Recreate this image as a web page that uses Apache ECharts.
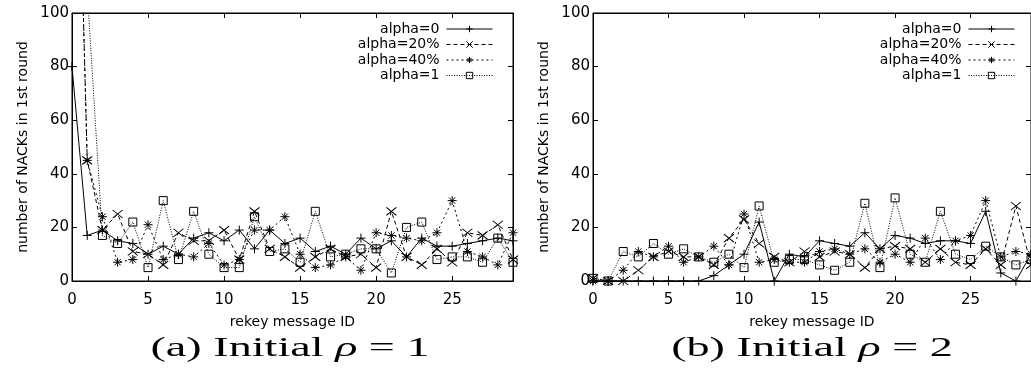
<!DOCTYPE html>
<html>
<head>
<meta charset="utf-8">
<script src="https://cdn.jsdelivr.net/npm/echarts@6/dist/echarts.min.js"></script>
<style>
html,body{margin:0;padding:0;background:#fff;}
#chart{width:1031px;height:368px;}
</style>
</head>
<body>
<div id="chart"></div>
<script>
// rekey message IDs
const ids = [0,1,2,3,4,5,6,7,8,9,10,11,12,13,14,15,16,17,18,19,20,21,22,23,24,25,26,27,28,29];
const seriesNames = ['alpha=0', 'alpha=20%', 'alpha=40%', 'alpha=1'];
const xTicks = [0, 5, 10, 15, 20, 25];
const yTicks = [0, 20, 40, 60, 80, 100];

// (a) Initial rho = 1
const a_alpha0  = [80,17,19,15,14,10,13,10,16,18,15,19,12,19,14,16,11,13,10,16,12,15,9,16,13,13,14,15,16,15];
const a_alpha20 = [260,45,19,25,11,10,6,18,15,15,19,8,26,12,9,5,9,12,9,10,5,26,9,6,12,7,18,17,21,8];
const a_alpha40 = [260,45,24,7,8,21,8,10,9,14,6,8,19,19,24,10,5,6,9,4,18,17,16,15,18,30,11,9,6,18];
const a_alpha1  = [150,108,17,14,22,5,30,8,26,10,5,5,24,11,12,7,26,9,10,12,12,3,20,22,8,9,9,7,16,7];

// (b) Initial rho = 2
const b_alpha0  = [0,0,0,0,0,0,0,0,2,6,10,22,0,10,9,15,14,13,18,12,17,16,14,15,15,14,26,3,0,10];
const b_alpha20 = [1,0,0,4,9,11,9,9,6,16,23,14,9,7,11,9,11,10,5,12,13,12,7,12,7,6,12,6,28,6];
const b_alpha40 = [0,0,4,11,9,13,7,9,13,6,25,7,8,7,7,11,12,10,12,7,10,7,16,8,15,17,30,9,11,10];
const b_alpha1  = [1,0,11,9,14,10,12,9,7,10,5,28,7,8,8,6,4,7,29,5,31,10,7,26,10,8,13,9,6,8];

const xAxisName = 'rekey message ID';
const yAxisName = 'number of NACKs in 1st round';

const chart = echarts.init(document.getElementById('chart'), null, {renderer: 'canvas'});

const SYM = {
  plus: 'path://M5,0L5,10M0,5L10,5',
  cross: 'path://M0,0L10,10M10,0L0,10',
  star: 'path://M5,0L5,10M0,5L10,5M1.5,1.5L8.5,8.5M8.5,1.5L1.5,8.5',
  square: 'path://M0,0L10,0L10,10L0,10Z'
};
const styles = [
  {sym: SYM.plus, size: [9, 9], dash: 'solid'},
  {sym: SYM.cross, size: [10, 8], dash: [4, 3]},
  {sym: SYM.star, size: [9, 9], dash: [2, 3]},
  {sym: SYM.square, size: [8, 8], dash: [1, 1.5]}
];

const fontSans = '"DejaVu Sans", "Liberation Sans", sans-serif';
const fontSerif = '"Liberation Serif", "DejaVu Serif", serif';

const grids = [
  {left: 72, top: 13, width: 441, height: 268, show: true, borderColor: '#000', borderWidth: 1, backgroundColor: 'transparent'},
  {left: 593, top: 13, width: 441, height: 268, show: true, borderColor: '#000', borderWidth: 1, backgroundColor: 'transparent'}
];

function xAxes(gi) {
  const common = {
    type: 'value', gridIndex: gi, min: 0, max: 29, interval: 5,
    splitLine: {show: false},
    axisLine: {show: true, onZero: false, lineStyle: {color: '#000', width: 1}},
    axisTick: {show: true, inside: true, length: 5, lineStyle: {color: '#000'}}
  };
  return [
    Object.assign({}, common, {
      position: 'bottom',
      name: xAxisName, nameLocation: 'middle', nameGap: 34,
      nameTextStyle: {fontSize: 14, fontFamily: fontSans, color: '#000'},
      axisLabel: {show: true, margin: 12, fontSize: 15, fontFamily: fontSans, color: '#000', showMaxLabel: false,
        formatter: v => (xTicks.indexOf(v) >= 0 ? String(v) : '')}
    }),
    Object.assign({}, common, {position: 'top', axisLabel: {show: false}})
  ];
}
function yAxes(gi) {
  const common = {
    type: 'value', gridIndex: gi, min: 0, max: 100, interval: 20,
    splitLine: {show: false},
    axisLine: {show: true, onZero: false, lineStyle: {color: '#000', width: 1}},
    axisTick: {show: true, inside: true, length: 5, lineStyle: {color: '#000'}}
  };
  return [
    Object.assign({}, common, {
      position: 'left',
      name: yAxisName, nameLocation: 'middle', nameGap: 42,
      nameTextStyle: {fontSize: 14, fontFamily: fontSans, color: '#000'},
      axisLabel: {show: true, margin: 3, fontSize: 15, fontFamily: fontSans, color: '#000',
        formatter: v => (yTicks.indexOf(v) >= 0 ? String(v) : '')}
    }),
    Object.assign({}, common, {position: 'right', axisLabel: {show: false}})
  ];
}

function makeSeries(gi, arrays) {
  return arrays.map((arr, k) => ({
    name: seriesNames[k],
    type: 'line',
    xAxisIndex: gi * 2,
    yAxisIndex: gi * 2,
    data: ids.map((x, i) => [x, arr[i]]),
    symbol: styles[k].sym,
    symbolSize: styles[k].size,
    showSymbol: true,
    clip: true,
    lineStyle: {color: '#000', width: 1, type: styles[k].dash},
    itemStyle: {color: 'rgba(0,0,0,0)', borderColor: '#000', borderWidth: 1},
    emphasis: {disabled: true},
    z: 10 - k,
    animation: false
  }));
}

function legendFor(rightPx) {
  return {
    data: seriesNames,
    orient: 'vertical',
    right: rightPx,
    top: 22,
    align: 'right',
    itemWidth: 46,
    itemHeight: 8,
    itemGap: 1.5,
    padding: 0,
    selectedMode: false,
    textStyle: {fontSize: 14, fontFamily: fontSans, color: '#000', padding: [0, 2, 0, 0]},
    itemStyle: {color: 'rgba(0,0,0,0)', borderColor: '#000', borderWidth: 1},
    lineStyle: {color: '#000', width: 1},
    inactiveColor: '#000'
  };
}

function caption(x, txt) {
  return {type: 'text', x: x, y: 349, scaleX: 1.65, scaleY: 1, style: {
    text: txt, fill: '#000', align: 'center', verticalAlign: 'middle',
    font: '28px ' + fontSerif,
    rich: {i: {fontStyle: 'italic', fontSize: 28, fontFamily: fontSerif}}
  }};
}

const option = {
  backgroundColor: '#fff',
  animation: false,
  grid: grids,
  xAxis: xAxes(0).concat(xAxes(1)),
  yAxis: yAxes(0).concat(yAxes(1)),
  legend: [legendFor(538), legendFor(16)],
  series: makeSeries(0, [a_alpha0, a_alpha20, a_alpha40, a_alpha1])
    .concat(makeSeries(1, [b_alpha0, b_alpha20, b_alpha40, b_alpha1])),
  graphic: [
    caption(290, '(a) Initial {i|ρ} = 1'),
    caption(812, '(b) Initial {i|ρ} = 2')
  ]
};
chart.setOption(option);
</script>
</body>
</html>
